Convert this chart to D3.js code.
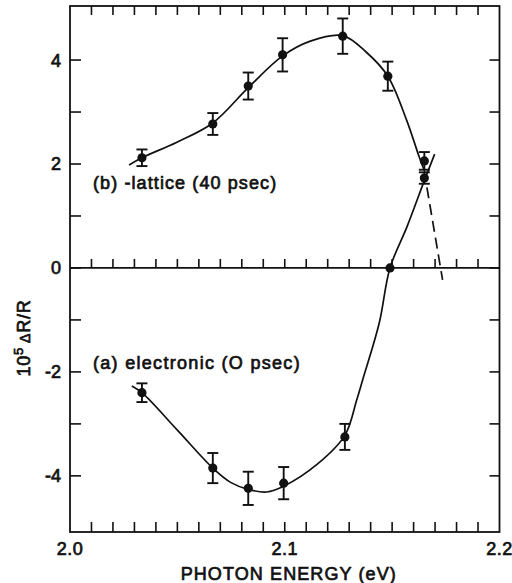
<!DOCTYPE html>
<html><head><meta charset="utf-8">
<script src="https://cdn.jsdelivr.net/npm/d3@7"></script>
<style>body{margin:0;background:#fff}</style>
</head><body><svg id="chart" width="512" height="583"></svg>
<script>
// (b) lattice response, 40 psec delay
const energyLattice = [2.0335, 2.0665, 2.083, 2.099, 2.127, 2.148, 2.165];
const valueLattice  = [2.12, 2.77, 3.50, 4.10, 4.46, 3.69, 2.06];
const errLattice    = [0.16, 0.21, 0.26, 0.32, 0.34, 0.28, 0.17];

// (a) electronic response, 0 psec delay
const energyElectronic = [2.0335, 2.0665, 2.083, 2.0995, 2.128, 2.149, 2.165];
const valueElectronic  = [-2.40, -3.85, -4.24, -4.14, -3.25, 0, 1.73];
const errElectronic    = [0.18, 0.29, 0.32, 0.31, 0.25, 0, 0.11];

// hand-drawn guide curves through each set
const guideLatticeX = [2.0275, 2.0335, 2.0498, 2.0665, 2.083, 2.099, 2.1116, 2.127, 2.138, 2.148, 2.1567, 2.1625, 2.1652];
const guideLatticeY = [1.98, 2.12, 2.42, 2.79, 3.47, 4.08, 4.36, 4.47, 4.15, 3.69, 2.85, 2.15, 1.85];
const guideLatticeDashX = [2.1662, 2.1735];
const guideLatticeDashY = [1.55, -0.23];
const guideElectronicX = [2.0288, 2.0335, 2.05, 2.0665, 2.075, 2.083, 2.0916, 2.0995, 2.115, 2.128, 2.1335, 2.1363, 2.144, 2.149, 2.157, 2.165, 2.1698];
const guideElectronicY = [-2.27, -2.40, -3.12, -3.85, -4.13, -4.26, -4.31, -4.20, -3.78, -3.22, -2.54, -2.15, -1.06, 0, 0.80, 1.68, 2.19];

const xTickLabels = [2.0, 2.1, 2.2];
const yTickLabels = [4, 2, 0, -2, -4];
const xMinorTicks = d3.range(1, 20).map(i => 2.0 + i * 0.01);
const yMinorTicks = d3.range(-4, 5);

const svg = d3.select("#chart");
const x = d3.scaleLinear().domain([2.0, 2.2]).range([70, 499.5]);
const y = d3.scaleLinear().domain([-5.08, 5.04]).range([532, 6]);
const ink = "#111";
const font = "'Liberation Sans', Arial, Helvetica, sans-serif";

// frame
svg.append("rect")
  .attr("x", x(2.0)).attr("y", y(5.04))
  .attr("width", x(2.2) - x(2.0)).attr("height", y(-5.08) - y(5.04))
  .attr("fill", "none").attr("stroke", ink).attr("stroke-width", 1.8);

// zero line
svg.append("line")
  .attr("x1", x(2.0)).attr("x2", x(2.2)).attr("y1", y(0)).attr("y2", y(0))
  .attr("stroke", ink).attr("stroke-width", 1.7);

// ticks on bottom (up), top (down) and zero line (up)
const tickG = svg.append("g").attr("stroke", ink).attr("stroke-width", 1.6);
xMinorTicks.forEach(v => {
  tickG.append("line").attr("x1", x(v)).attr("x2", x(v)).attr("y1", y(-5.08)).attr("y2", y(-5.08) - 10);
  tickG.append("line").attr("x1", x(v)).attr("x2", x(v)).attr("y1", y(5.04)).attr("y2", y(5.04) + 9);
  tickG.append("line").attr("x1", x(v)).attr("x2", x(v)).attr("y1", y(0)).attr("y2", y(0) - 9);
});
// ticks on left (right) and right (left)
yMinorTicks.forEach(v => {
  tickG.append("line").attr("x1", x(2.0)).attr("x2", x(2.0) + 11).attr("y1", y(v)).attr("y2", y(v));
  tickG.append("line").attr("x1", x(2.2)).attr("x2", x(2.2) - 10).attr("y1", y(v)).attr("y2", y(v));
});

const textStyle = sel => sel.attr("font-family", font).attr("fill", ink)
  .attr("stroke", ink).attr("stroke-width", 0.7);

// tick labels
svg.append("g").selectAll("text").data(yTickLabels).join("text")
  .attr("x", 61).attr("y", d => y(d)).attr("dy", "0.36em")
  .attr("text-anchor", "end").attr("font-size", 18)
  .text(d => d).call(textStyle);
svg.append("g").selectAll("text").data(xTickLabels).join("text")
  .attr("x", d => x(d)).attr("y", 555)
  .attr("text-anchor", "middle").attr("font-size", 18).attr("letter-spacing", 0.5)
  .text(d => d.toFixed(1)).call(textStyle);

// axis titles
svg.append("text").attr("x", (x(2.0) + x(2.2)) / 2 + 4).attr("y", 580)
  .attr("text-anchor", "middle").attr("font-size", 18).attr("letter-spacing", 1.1)
  .text("PHOTON ENERGY (eV)").call(textStyle);

const yTitle = svg.append("text")
  .attr("transform", "translate(30,338) rotate(-90)")
  .attr("text-anchor", "middle").attr("font-size", 18).attr("letter-spacing", 0.8)
  .call(textStyle);
yTitle.append("tspan").text("10");
yTitle.append("tspan").attr("dy", -7).attr("font-size", 13).text("5");
yTitle.append("tspan").attr("dy", 7).attr("font-size", 14).text(" \u0394");
yTitle.append("tspan").attr("font-size", 18).text("R/R");

// guide curves
const line = d3.line().x(d => x(d[0])).y(d => y(d[1])).curve(d3.curveCatmullRom.alpha(0.5));
const curveStyle = sel => sel.attr("fill", "none").attr("stroke", ink).attr("stroke-width", 1.7);
svg.append("path").attr("d", line(d3.zip(guideLatticeX, guideLatticeY))).call(curveStyle);
svg.append("path").attr("d", d3.line().x(d => x(d[0])).y(d => y(d[1]))(d3.zip(guideLatticeDashX, guideLatticeDashY)))
  .call(curveStyle).attr("stroke-dasharray", "11,6");
svg.append("path").attr("d", line(d3.zip(guideElectronicX, guideElectronicY))).call(curveStyle);

// data points with error bars
function drawSeries(xs, ys, es) {
  const g = svg.append("g");
  const pts = d3.zip(xs, ys, es);
  const bars = g.selectAll("g.err").data(pts.filter(d => d[2] > 0)).join("g")
    .attr("stroke", ink).attr("stroke-width", 1.9);
  bars.append("line").attr("x1", d => x(d[0])).attr("x2", d => x(d[0]))
    .attr("y1", d => y(d[1] + d[2])).attr("y2", d => y(d[1] - d[2]));
  bars.append("line").attr("x1", d => x(d[0]) - 5.5).attr("x2", d => x(d[0]) + 5.5)
    .attr("y1", d => y(d[1] + d[2])).attr("y2", d => y(d[1] + d[2]));
  bars.append("line").attr("x1", d => x(d[0]) - 5.5).attr("x2", d => x(d[0]) + 5.5)
    .attr("y1", d => y(d[1] - d[2])).attr("y2", d => y(d[1] - d[2]));
  g.selectAll("circle").data(pts).join("circle")
    .attr("cx", d => x(d[0])).attr("cy", d => y(d[1])).attr("r", 4.6).attr("fill", ink);
}
drawSeries(energyLattice, valueLattice, errLattice);
drawSeries(energyElectronic, valueElectronic, errElectronic);

// series labels
svg.append("text").attr("x", 93).attr("y", 189).attr("font-size", 18).attr("letter-spacing", 1.1)
  .text("(b) -lattice (40 psec)").call(textStyle);
svg.append("text").attr("x", 93).attr("y", 369).attr("font-size", 18).attr("letter-spacing", 1.3)
  .text("(a) electronic (O psec)").call(textStyle);
</script>
</body></html>
